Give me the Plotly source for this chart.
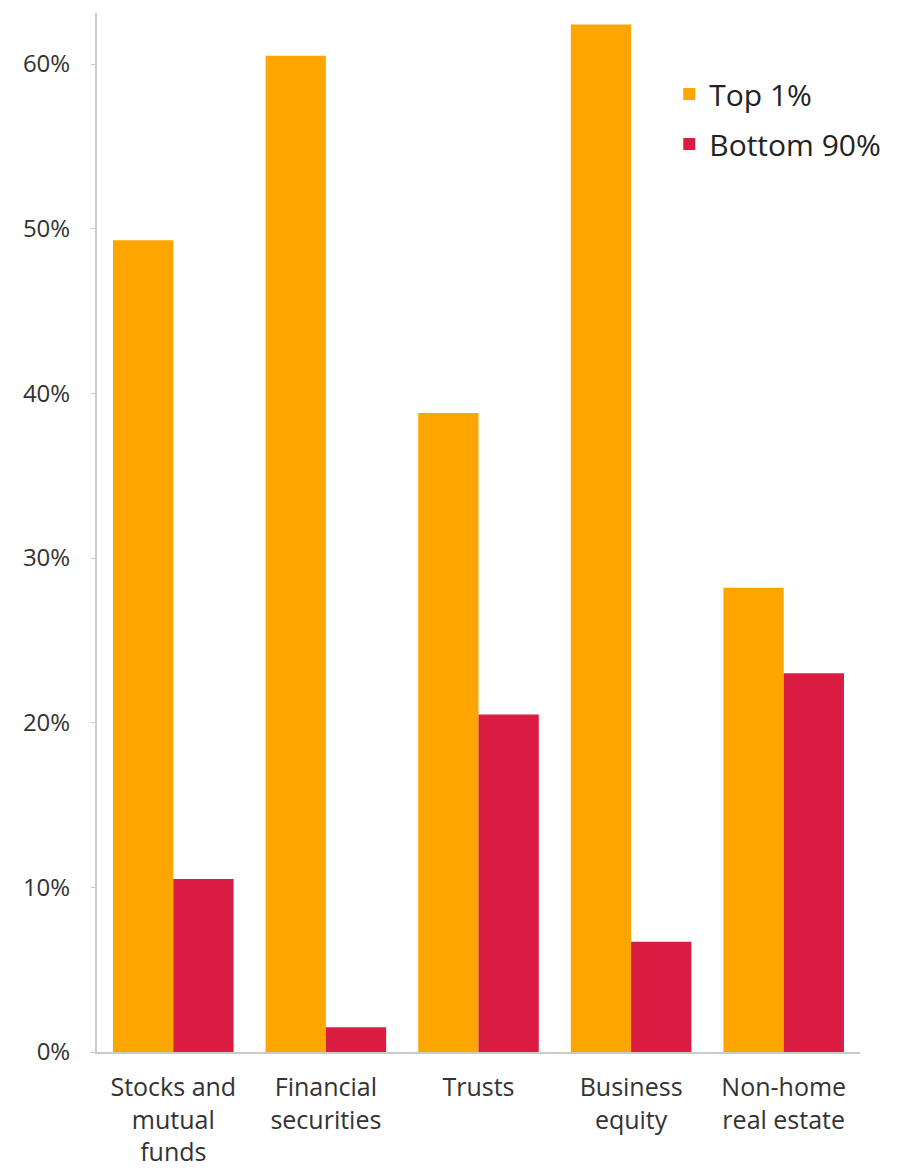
import plotly.graph_objects as go

categories = ["Stocks and<br>mutual<br>funds", "Financial<br>securities", "Trusts",
              "Business<br>equity", "Non-home<br>real estate"]
top1 = [49.3, 60.5, 38.8, 62.4, 28.2]
bottom90 = [10.5, 1.5, 20.5, 6.7, 23.0]
tick_vals = [0, 10, 20, 30, 40, 50, 60]
tick_text = ["0%", "10%", "20%", "30%", "40%", "50%", "60%"]

FONT = "Open Sans"
ORANGE = "#FFA500"
RED = "#DA1C42"

fig = go.Figure()
fig.add_trace(go.Bar(name="Top 1%", x=categories, y=top1, marker_color=ORANGE,
                     marker_line_width=0, legendgroup="a"))
fig.add_trace(go.Bar(name="Bottom 90%", x=categories, y=bottom90, marker_color=RED,
                     marker_line_width=0, legendgroup="b"))

fig.update_layout(
    width=907, height=1172,
    margin=dict(l=97, r=47, t=13, b=120),
    paper_bgcolor="white", plot_bgcolor="white",
    barmode="group", bargap=0.21, bargroupgap=0,
    font=dict(family=FONT, color="#333333"),
    showlegend=True,
    legend=dict(x=0.75, y=0.947, xanchor="left", yanchor="top",
                font=dict(size=30, color="#222222", family=FONT),
                bgcolor="rgba(0,0,0,0)", tracegroupgap=8, traceorder="grouped"),
)
fig.update_xaxes(showline=True, linecolor="#c5cdc5", linewidth=2, ticks="",
                 showgrid=False, tickfont=dict(size=25, color="#333333"),
                 range=[-0.5, 4.5], ticklabelstandoff=12, automargin=False)
fig.update_yaxes(range=[0, 63.1], tickvals=tick_vals, ticktext=tick_text,
                 showline=True, linecolor="#c5cdc5", linewidth=2,
                 ticks="outside", ticklen=4, tickcolor="#c5cdc5",
                 showgrid=False, zeroline=False, automargin=False,
                 tickfont=dict(size=24, color="#333333"), ticklabelstandoff=16)

fig.write_html("out.html")
